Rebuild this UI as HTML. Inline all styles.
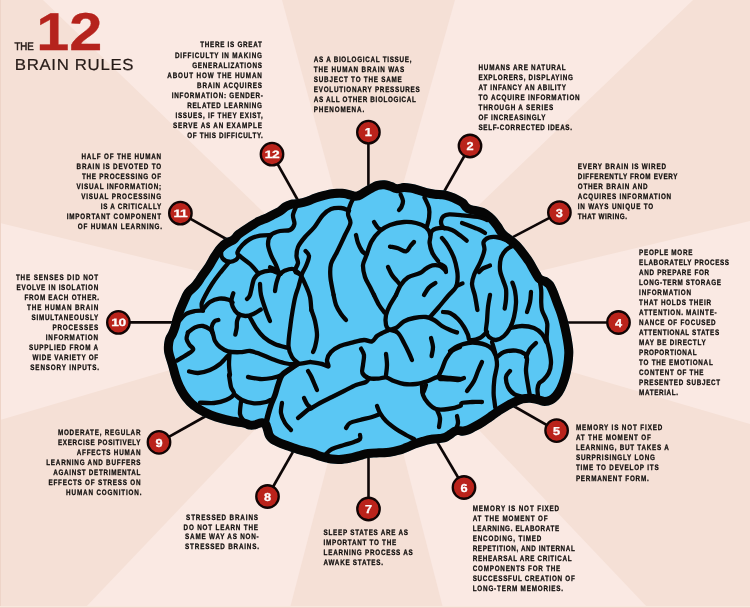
<!DOCTYPE html>
<html lang="en"><head><meta charset="utf-8"><title>The 12 Brain Rules</title>
<style>html,body{margin:0;padding:0;background:#fae9e3}body{width:750px;height:608px;overflow:hidden}svg{display:block}</style>
</head><body>
<svg width="750" height="608" viewBox="0 0 750 608">
<rect width="750" height="608" fill="#fae9e3"/>
<polygon points="367,312 0,223 0,0 43,0" fill="#f5e0d6"/>
<polygon points="367,312 282,0 455,0" fill="#f5e0d6"/>
<polygon points="367,312 693,0 750,0 750,221" fill="#f5e0d6"/>
<polygon points="367,312 750,424 750,608 648,608" fill="#f5e0d6"/>
<polygon points="367,312 443,608 290,608" fill="#f5e0d6"/>
<polygon points="367,312 85,608 0,608 0,420" fill="#f5e0d6"/>
<rect x="0" y="0" width="1" height="608" fill="#eed4c8"/><rect x="0" y="606" width="750" height="1" fill="#f7e9de"/><rect x="0" y="607" width="750" height="1" fill="#f3d0ca"/>
<g stroke="#0d0606" stroke-width="2.6" stroke-linecap="butt">
<line x1="368.4" y1="132" x2="368.4" y2="190"/>
<line x1="470" y1="146" x2="441.6" y2="196"/>
<line x1="559.4" y1="212.6" x2="508" y2="239.7"/>
<line x1="618.5" y1="322.5" x2="566" y2="322.5"/>
<line x1="556.6" y1="430.6" x2="510" y2="404"/>
<line x1="464" y1="487.5" x2="436" y2="440"/>
<line x1="368.5" y1="509" x2="368.5" y2="455"/>
<line x1="267.5" y1="496.5" x2="294" y2="450"/>
<line x1="159" y1="442.3" x2="206" y2="416"/>
<line x1="118.4" y1="322.4" x2="175" y2="322.4"/>
<line x1="180.4" y1="213.2" x2="228" y2="240"/>
<line x1="272" y1="154.2" x2="300" y2="204"/>
</g>
<defs><clipPath id="bc"><path d="M164 351C163.8 349 163.8 347.2 164 345C164.2 342.8 164.6 339.9 165.3 337.7C166.1 335.4 167.6 333.5 168.5 331.5C169.4 329.5 170 328 170.7 325.7C171.4 323.4 171.8 320.6 172.7 317.7C173.6 314.8 174.8 311.4 176 308.3C177.2 305.2 178.6 302.1 180 299C181.4 295.9 182.6 292.5 184.7 289.7C186.8 286.9 190.3 284.6 192.5 282C194.7 279.4 195.9 277.1 198 274C200.1 270.9 203.2 267 205.3 263.7C207.4 260.4 208.7 257.4 210.7 254.3C212.7 251.2 215.1 247.6 217.3 245C219.5 242.4 221.8 240.4 224 239C226.2 237.6 228.9 237.5 230.7 236.3C232.5 235.1 232.9 233.2 234.7 231.7C236.5 230.1 238.9 228.7 241.3 227C243.7 225.3 246.6 223.4 249.3 221.7C252 220 254.6 218.3 257.3 217C260 215.7 262.9 214.8 265.3 213.7C267.7 212.6 269.5 211.5 271.5 210.5C273.5 209.5 275.5 208.8 277.5 207.5C279.5 206.2 281.2 204.1 283.3 202.8C285.4 201.5 287.6 200.5 290 199.9C292.4 199.3 295.3 199.5 298 199C300.7 198.5 303.3 197.9 306 197C308.7 196.1 311.1 194.7 314 193.7C316.9 192.7 320 191.8 323.3 191C326.6 190.2 330.4 189.3 334 189C337.6 188.7 341.6 188.7 344.7 189C347.8 189.3 350.7 190.6 352.7 191C354.7 191.4 354.9 192.2 356.7 191.7C358.5 191.1 361.1 189 363.3 187.7C365.5 186.4 367.8 185.1 370 184C372.2 182.9 374.2 181.6 376.7 181C379.1 180.4 382 180.1 384.7 180.3C387.4 180.5 390.6 181.6 392.7 182.3C394.8 183 395.5 184.2 397.3 184.3C399.1 184.4 401 183.1 403.3 183C405.6 182.9 408.6 183.2 411.3 183.7C414 184.1 416.6 184.9 419.3 185.7C422 186.5 424.6 187.6 427.3 188.3C430 189 432.6 189.4 435.3 189.7C438 190 440.6 189.9 443.3 190.3C446 190.7 448.6 191.4 451.3 192.3C454 193.2 456.9 194.5 459.3 195.7C461.8 196.9 464.2 198.2 466 199.7C467.8 201.2 468 203.4 470 204.5C472 205.6 475.3 205.8 478 206.5C480.7 207.2 483.3 207.6 486 209C488.7 210.4 491.6 212.7 494 215C496.4 217.3 498.7 220.3 500.7 223C502.7 225.7 504 228.8 506 231C508 233.2 510.5 234.5 512.7 236.3C514.9 238.1 517.1 239.5 519.3 241.7C521.5 243.9 523.8 246.8 526 249.7C528.2 252.6 530.9 256.2 532.7 259C534.5 261.8 535.8 264.4 537 266.5C538.2 268.6 539 270.2 540 271.7C541 273.2 541.4 274.7 542.7 275.7C544 276.7 546.2 276.6 548 277.7C549.8 278.8 551.8 280.2 553.3 282.3C554.8 284.4 556 287.2 557.3 290.3C558.6 293.4 560 297.4 561.3 301C562.6 304.6 564.2 308.4 565.3 311.7C566.4 315 567.1 317.4 568 321C568.9 324.6 569.9 329 570.7 333C571.5 337 572.3 341.6 572.7 345C573.1 348.4 573.4 349.7 573.3 353.3C573.2 356.9 572.7 362.5 572 366.7C571.3 370.9 570.5 374.7 569.3 378.7C568.1 382.7 566.4 387.4 564.7 390.7C563 394 561.3 396.5 559.3 398.7C557.3 400.9 555.1 402.8 552.7 404C550.3 405.2 547.4 406 544.7 406C542 406 539.2 404.6 536.7 404C534.2 403.4 532.2 402.8 530 402.7C527.8 402.6 525.5 402.8 523.3 403.3C521.1 403.9 518.9 405 516.7 406C514.5 407 512.2 408.1 510 409.3C507.8 410.5 505.5 411.9 503.3 413.3C501.1 414.7 498.7 416.3 497 417.5C495.3 418.7 495.2 418.9 493.3 420.3C491.4 421.7 488 424 485.3 425.7C482.6 427.4 480 428.9 477.3 430.3C474.6 431.7 471.7 433.4 469.3 434.3C466.9 435.2 464.7 435.6 462.7 435.7C460.7 435.8 458.9 434.7 457.3 435C455.7 435.3 455.1 436.6 453.3 437.7C451.5 438.8 448.9 440.8 446.7 441.7C444.5 442.6 442.4 442.7 440 443C437.6 443.3 434.7 443.2 432 443.7C429.3 444.1 426.7 444.9 424 445.7C421.3 446.5 418.7 447.3 416 448.3C413.3 449.3 410.6 450.7 408 451.7C405.4 452.7 403.3 453.7 400.3 454.5C397.3 455.3 393.5 456.2 390 456.7C386.5 457.2 382.9 457.1 379.3 457.3C375.8 457.5 371.8 457.6 368.7 458C365.6 458.4 363.8 459.2 360.7 460C357.6 460.8 353.6 462 350 462.7C346.4 463.4 342.5 463.9 339.3 464C336.1 464.1 333.4 463.8 331 463.5C328.6 463.2 327.2 462.8 325 462.3C322.8 461.8 320.2 461.1 318 460.3C315.8 459.5 314.1 458.5 311.5 457.7C308.9 456.9 305.6 456.2 302.3 455.3C299 454.4 294.8 453 291.7 452C288.6 451 286.4 450.3 283.7 449.3C281 448.3 278.1 447.2 275.7 446C273.2 444.8 270.8 443.6 269 442C267.2 440.4 266 438.7 265 436.7C264 434.7 263.6 431.6 263 430C262.4 428.4 262.9 427.4 261.7 427.3C260.5 427.2 257.8 428.9 255.7 429.3C253.6 429.7 251.1 429.9 249 429.6C246.9 429.3 246 428.1 243.3 427.5C240.6 426.9 236.5 426.4 232.7 425.7C228.9 424.9 224.7 424.1 220.7 423C216.7 421.9 212.5 420.6 208.7 419C204.9 417.4 201.3 415.7 198 413.7C194.7 411.7 191.6 409.7 188.7 407C185.8 404.3 182.9 400.8 180.7 397.7C178.5 394.6 176.9 391.6 175.3 388.3C173.7 385 172.5 381.5 171.3 377.7C170.1 373.9 169 369.1 168 365.7C167 362.2 166 359.4 165.3 357C164.6 354.6 164.2 353 164 351Z"/></clipPath></defs>
<path d="M164 351C163.8 349 163.8 347.2 164 345C164.2 342.8 164.6 339.9 165.3 337.7C166.1 335.4 167.6 333.5 168.5 331.5C169.4 329.5 170 328 170.7 325.7C171.4 323.4 171.8 320.6 172.7 317.7C173.6 314.8 174.8 311.4 176 308.3C177.2 305.2 178.6 302.1 180 299C181.4 295.9 182.6 292.5 184.7 289.7C186.8 286.9 190.3 284.6 192.5 282C194.7 279.4 195.9 277.1 198 274C200.1 270.9 203.2 267 205.3 263.7C207.4 260.4 208.7 257.4 210.7 254.3C212.7 251.2 215.1 247.6 217.3 245C219.5 242.4 221.8 240.4 224 239C226.2 237.6 228.9 237.5 230.7 236.3C232.5 235.1 232.9 233.2 234.7 231.7C236.5 230.1 238.9 228.7 241.3 227C243.7 225.3 246.6 223.4 249.3 221.7C252 220 254.6 218.3 257.3 217C260 215.7 262.9 214.8 265.3 213.7C267.7 212.6 269.5 211.5 271.5 210.5C273.5 209.5 275.5 208.8 277.5 207.5C279.5 206.2 281.2 204.1 283.3 202.8C285.4 201.5 287.6 200.5 290 199.9C292.4 199.3 295.3 199.5 298 199C300.7 198.5 303.3 197.9 306 197C308.7 196.1 311.1 194.7 314 193.7C316.9 192.7 320 191.8 323.3 191C326.6 190.2 330.4 189.3 334 189C337.6 188.7 341.6 188.7 344.7 189C347.8 189.3 350.7 190.6 352.7 191C354.7 191.4 354.9 192.2 356.7 191.7C358.5 191.1 361.1 189 363.3 187.7C365.5 186.4 367.8 185.1 370 184C372.2 182.9 374.2 181.6 376.7 181C379.1 180.4 382 180.1 384.7 180.3C387.4 180.5 390.6 181.6 392.7 182.3C394.8 183 395.5 184.2 397.3 184.3C399.1 184.4 401 183.1 403.3 183C405.6 182.9 408.6 183.2 411.3 183.7C414 184.1 416.6 184.9 419.3 185.7C422 186.5 424.6 187.6 427.3 188.3C430 189 432.6 189.4 435.3 189.7C438 190 440.6 189.9 443.3 190.3C446 190.7 448.6 191.4 451.3 192.3C454 193.2 456.9 194.5 459.3 195.7C461.8 196.9 464.2 198.2 466 199.7C467.8 201.2 468 203.4 470 204.5C472 205.6 475.3 205.8 478 206.5C480.7 207.2 483.3 207.6 486 209C488.7 210.4 491.6 212.7 494 215C496.4 217.3 498.7 220.3 500.7 223C502.7 225.7 504 228.8 506 231C508 233.2 510.5 234.5 512.7 236.3C514.9 238.1 517.1 239.5 519.3 241.7C521.5 243.9 523.8 246.8 526 249.7C528.2 252.6 530.9 256.2 532.7 259C534.5 261.8 535.8 264.4 537 266.5C538.2 268.6 539 270.2 540 271.7C541 273.2 541.4 274.7 542.7 275.7C544 276.7 546.2 276.6 548 277.7C549.8 278.8 551.8 280.2 553.3 282.3C554.8 284.4 556 287.2 557.3 290.3C558.6 293.4 560 297.4 561.3 301C562.6 304.6 564.2 308.4 565.3 311.7C566.4 315 567.1 317.4 568 321C568.9 324.6 569.9 329 570.7 333C571.5 337 572.3 341.6 572.7 345C573.1 348.4 573.4 349.7 573.3 353.3C573.2 356.9 572.7 362.5 572 366.7C571.3 370.9 570.5 374.7 569.3 378.7C568.1 382.7 566.4 387.4 564.7 390.7C563 394 561.3 396.5 559.3 398.7C557.3 400.9 555.1 402.8 552.7 404C550.3 405.2 547.4 406 544.7 406C542 406 539.2 404.6 536.7 404C534.2 403.4 532.2 402.8 530 402.7C527.8 402.6 525.5 402.8 523.3 403.3C521.1 403.9 518.9 405 516.7 406C514.5 407 512.2 408.1 510 409.3C507.8 410.5 505.5 411.9 503.3 413.3C501.1 414.7 498.7 416.3 497 417.5C495.3 418.7 495.2 418.9 493.3 420.3C491.4 421.7 488 424 485.3 425.7C482.6 427.4 480 428.9 477.3 430.3C474.6 431.7 471.7 433.4 469.3 434.3C466.9 435.2 464.7 435.6 462.7 435.7C460.7 435.8 458.9 434.7 457.3 435C455.7 435.3 455.1 436.6 453.3 437.7C451.5 438.8 448.9 440.8 446.7 441.7C444.5 442.6 442.4 442.7 440 443C437.6 443.3 434.7 443.2 432 443.7C429.3 444.1 426.7 444.9 424 445.7C421.3 446.5 418.7 447.3 416 448.3C413.3 449.3 410.6 450.7 408 451.7C405.4 452.7 403.3 453.7 400.3 454.5C397.3 455.3 393.5 456.2 390 456.7C386.5 457.2 382.9 457.1 379.3 457.3C375.8 457.5 371.8 457.6 368.7 458C365.6 458.4 363.8 459.2 360.7 460C357.6 460.8 353.6 462 350 462.7C346.4 463.4 342.5 463.9 339.3 464C336.1 464.1 333.4 463.8 331 463.5C328.6 463.2 327.2 462.8 325 462.3C322.8 461.8 320.2 461.1 318 460.3C315.8 459.5 314.1 458.5 311.5 457.7C308.9 456.9 305.6 456.2 302.3 455.3C299 454.4 294.8 453 291.7 452C288.6 451 286.4 450.3 283.7 449.3C281 448.3 278.1 447.2 275.7 446C273.2 444.8 270.8 443.6 269 442C267.2 440.4 266 438.7 265 436.7C264 434.7 263.6 431.6 263 430C262.4 428.4 262.9 427.4 261.7 427.3C260.5 427.2 257.8 428.9 255.7 429.3C253.6 429.7 251.1 429.9 249 429.6C246.9 429.3 246 428.1 243.3 427.5C240.6 426.9 236.5 426.4 232.7 425.7C228.9 424.9 224.7 424.1 220.7 423C216.7 421.9 212.5 420.6 208.7 419C204.9 417.4 201.3 415.7 198 413.7C194.7 411.7 191.6 409.7 188.7 407C185.8 404.3 182.9 400.8 180.7 397.7C178.5 394.6 176.9 391.6 175.3 388.3C173.7 385 172.5 381.5 171.3 377.7C170.1 373.9 169 369.1 168 365.7C167 362.2 166 359.4 165.3 357C164.6 354.6 164.2 353 164 351Z" fill="#5ac7f4" stroke="#050505" stroke-width="18" stroke-linejoin="round" clip-path="url(#bc)"/>
<g fill="none" stroke="#050505" stroke-linecap="round" stroke-linejoin="round" clip-path="url(#bc)">
<path d="M297 205C296.3 206.7 293.4 211.8 293 215C292.6 218.2 294.9 221.5 294.4 224C293.9 226.5 292.4 228.8 290 230C287.6 231.2 283.2 230.2 280 231C276.8 231.8 273 232.8 271 235C269 237.2 268 240.7 268 244C268 247.3 269.7 251.5 271 255C272.3 258.5 274.6 261.8 276 265C277.4 268.2 278.7 272.8 279.2 274.4" stroke-width="4.3"/>
<path d="M271 235C269.2 235.1 263.5 234.9 260 235.6C256.5 236.3 252.9 237.4 250 239C247.1 240.6 244.5 242.8 242.4 245C240.3 247.2 238.2 250.3 237.6 252C237 253.7 236.9 253.4 239 255.4C241.1 257.4 246.8 261.1 250 264C253.2 266.9 256.7 271.5 258 273" stroke-width="4.3"/>
<path d="M230 244C228.9 244.8 225.1 247.3 223.6 248.6C222.1 249.9 221.4 250.4 221.2 252C221 253.6 221.3 256.8 222.6 258.4C223.9 260 227 261.6 229.2 261.8C231.4 262 234.4 260.9 236 259.8C237.6 258.7 238.5 256.1 239 255.4" stroke-width="4.3"/>
<path d="M229.2 261.8C227.7 263.7 222.9 269.3 220 273C217.1 276.7 214.4 280.3 212 284C209.6 287.7 207.3 291.7 205.6 295C203.9 298.3 202 301.4 201.6 304C201.2 306.6 202.8 309.5 203 310.6" stroke-width="4.3"/>
<path d="M349 210.5C347.7 210.1 344 208.2 341 208C338 207.8 334.1 207.8 331 209C327.9 210.2 325.2 212.5 322.5 215.5C319.8 218.5 317.4 223.4 314.5 227C311.6 230.6 307.8 233.7 305 237C302.2 240.3 299.4 243.8 298 247C296.6 250.2 296.5 253.3 296.5 256C296.5 258.7 298.2 260.5 298 263C297.8 265.5 294.6 268.9 295 271C295.4 273.1 298.8 272.8 300.7 275.3C302.5 277.8 304.4 282.4 306 286C307.6 289.6 309.1 292.7 310 296.7C310.9 300.7 311.1 307.8 311.3 310" stroke-width="4.3"/>
<path d="M305.6 251C306.2 251.8 308.9 253.7 309 256C309.1 258.3 307.5 262.2 306.4 265C305.3 267.8 303.1 271.5 302.4 273C301.7 274.5 302.6 271.8 302 274C301.4 276.2 299.8 282.2 298.7 286C297.6 289.8 296.3 292.7 295.3 296.7C294.3 300.7 293.5 305.3 292.7 310C291.9 314.7 291.2 319 290.5 325C289.8 331 288.2 340.7 288.5 346C288.8 351.3 290.4 354.2 292 357C293.6 359.8 297 362 298 363" stroke-width="4.3"/>
<path d="M247 299C247.5 298.3 248.8 298.3 250 295C251.2 291.7 252.3 282.7 254 279C255.7 275.3 257.3 274.4 260 273C262.7 271.6 267.2 270.7 270 270.6C272.8 270.5 275.5 272 277 272.6C278.5 273.2 278.8 274.1 279.2 274.4" stroke-width="4.3"/>
<path d="M260 284C260.2 285.8 260 290.5 261 295C262 299.5 264.5 306.7 266 311C267.5 315.3 269.3 319.3 270 321" stroke-width="4.3"/>
<path d="M279.2 274.4C278.7 275.8 277.1 280.2 276.4 283C275.7 285.8 275.2 289.7 275 291" stroke-width="4.3"/>
<path d="M279.2 274.4C280.2 273.8 282.7 271.5 285 270.6C287.3 269.7 290.4 268.4 293 269C295.6 269.6 299.2 273.5 300.4 274.4" stroke-width="4.3"/>
<path d="M357.6 192C356.5 193.8 352.6 199.3 351 203C349.4 206.7 348.1 210.7 348 214C347.9 217.3 350.9 219.5 350.4 223C349.9 226.5 347.2 230.2 345 235C342.8 239.8 339.3 247.2 337 252C334.7 256.8 332.1 259.8 331 264C329.9 268.2 330 271.8 330.4 277C330.8 282.2 333.1 292 333.6 295" stroke-width="4.3"/>
<path d="M400.6 194.6C401 195.7 402.9 198.9 403 201C403.1 203.1 402.1 205.5 401.4 207C400.7 208.5 399.4 209.5 399 210" stroke-width="4.3"/>
<path d="M424.4 197.4C425.2 199.2 428.2 204.6 429 208C429.8 211.4 429.3 215 429 218C428.7 221 427.3 224.7 427 226" stroke-width="4.3"/>
<path d="M374 222C374.6 222.9 376.5 226.2 377.6 227.4C378.7 228.6 379.9 229.1 380.4 229.4" stroke-width="4.3"/>
<path d="M366.4 255.4C367.3 253.1 369.3 245.5 371.6 241.4C373.9 237.3 376.9 233.7 380 231C383.1 228.3 386 226.5 390 225C394 223.5 399.7 222.3 404 222C408.3 221.7 412.3 222.1 416 223C419.7 223.9 423.6 225.4 426 227.4C428.4 229.4 429.8 232.4 430.4 235C431 237.6 429.3 240 429.6 243C429.9 246 431 250 432.4 253C433.8 256 437.1 259.7 438 261" stroke-width="4.3"/>
<path d="M356 235C356.3 236.3 357 240.3 358 243C359 245.7 360.7 248.9 362 251C363.3 253.1 365.8 253.1 366 255.4C366.2 257.7 363.2 261.4 363 265C362.8 268.6 363.8 273.3 365 277C366.2 280.7 368.5 284 370 287C371.5 290 373.3 293.7 374 295" stroke-width="4.3"/>
<path d="M390 246.6C391.3 246.9 395.3 247.4 398 248.2C400.7 249 403.9 251.8 406 251.4C408.1 251 409.1 247.6 410.4 246C411.7 244.4 413.4 242.7 414 242" stroke-width="4.3"/>
<path d="M388 267C388.7 268.3 390.5 272.7 392 275C393.5 277.3 395.7 279.4 397 281C398.3 282.6 399.5 284 400 284.6" stroke-width="4.3"/>
<path d="M396 295C396.8 293.3 398.8 287.9 400.8 285C402.8 282.1 404.8 279.4 408 277.4C411.2 275.4 417 274.5 420 273C423 271.5 423.9 269.9 426 268.6C428.1 267.3 430.1 265.8 432.4 265.4C434.7 265 437.9 265.2 440 266C442.1 266.8 444.3 269.5 445.2 270.2" stroke-width="4.3"/>
<path d="M424 295C424.8 293.7 427.1 289.4 429 287.4C430.9 285.4 434.3 283.7 435.4 283" stroke-width="4.3"/>
<path d="M430.4 235C430.7 234.3 431.1 232.1 432 231C432.9 229.9 434 229.2 436 228.7C438 228.2 441.3 227.8 444 228C446.7 228.2 449.3 228.8 452 230C454.7 231.2 457.6 233.5 460 235.3C462.4 237.1 465.6 239.8 466.7 240.7" stroke-width="4.3"/>
<path d="M487 220C485.8 219.6 484.1 218.1 480 217.3C475.9 216.5 467.8 215.8 462.7 215.3C457.6 214.8 452.5 214.2 449.3 214.4C446.1 214.6 444.7 215.2 443.3 216.4C441.9 217.6 441.2 219.7 441 221.3C440.8 222.9 441.4 224.8 442 226C442.6 227.2 444.1 227.8 444.5 228.2" stroke-width="4.3"/>
<path d="M462 223C463.3 223.5 467 224.8 470 226C473 227.2 477.5 228.8 480 230C482.5 231.2 484.2 232.5 485 233" stroke-width="4.3"/>
<path d="M513 245C511.8 244.2 508.8 241.3 506 240C503.2 238.7 498.8 237.4 496 237C493.2 236.6 491.1 236.8 489 237.6C486.9 238.4 484.4 239.9 483.6 242C482.8 244.1 484.9 246.7 484.4 250C483.9 253.3 482.1 258 480.4 262C478.7 266 475.8 270.3 474.4 274C473 277.7 471.9 280.3 472 284C472.1 287.7 474.1 291.7 475 296C475.9 300.3 477 307.7 477.4 310" stroke-width="4.3"/>
<path d="M513 245.6C511.8 246.3 508 247.9 506 250C504 252.1 502 254.7 501 258C500 261.3 499.7 266.3 500 270C500.3 273.7 502 276.8 503 280C504 283.2 505.5 285.8 506 289C506.5 292.2 506.2 296.2 506 299.5C505.8 302.8 504.9 307 504.7 308.5" stroke-width="4.3"/>
<path d="M490 265.6C488.8 266.1 484.8 267.3 483 268.4C481.2 269.5 479.7 271.4 479 272" stroke-width="4.3"/>
<path d="M442 238C443 239.3 446 242.7 448 246C450 249.3 452.5 254 454 258C455.5 262 456.4 266.7 457 270C457.6 273.3 457.8 275.2 457.6 278C457.4 280.8 457.6 284 456 287C454.4 290 451 292.5 448 296C445 299.5 441 304.5 438 308C435 311.5 431.3 315.5 430 317" stroke-width="4.3"/>
<path d="M456.5 286L462.5 283.4" stroke-width="4.3"/>
<path d="M440 264C440.8 264.5 444 265.7 445 267C446 268.3 445.8 271.2 446 272" stroke-width="4.3"/>
<path d="M270 267.3C271.1 267.8 274.9 268.9 276.7 270C278.4 271.1 280 273.3 280.7 274" stroke-width="4.3"/>
<path d="M203.2 309C204.3 307.8 207.3 303.7 210 302C212.7 300.3 216.1 299 219.2 298.6C222.3 298.2 226.4 299.1 228.6 299.8C230.8 300.5 231.9 302.1 232.6 302.6" stroke-width="4.3"/>
<path d="M233.3 293.3C233 294.4 231.6 297.8 231.5 300C231.4 302.2 231.7 304.5 232.7 306.7C233.7 308.9 235.2 311.8 237.3 313.3C239.4 314.9 242.6 315.9 245.3 316C248 316.1 250.7 315.1 253.3 314C255.9 312.9 259.5 310.3 260.7 309.6" stroke-width="4.3"/>
<path d="M239.3 315.3C238.9 316.3 237.4 319.2 237 321.3C236.6 323.4 237 325.8 236.7 328C236.4 330.2 235.5 333.6 235.3 334.7" stroke-width="4.3"/>
<path d="M179 321C180.2 319.8 183.3 315.7 186 314C188.7 312.3 192.2 311.6 195 311C197.8 310.4 201.7 310.7 203 310.6" stroke-width="4.3"/>
<path d="M188 332.4C189.2 331.6 192.5 328.5 195 327.4C197.5 326.3 200.5 325.7 203 326C205.5 326.3 208.3 328.1 210 329.4C211.7 330.7 212.2 332.1 213 334C213.8 335.9 213.8 338.8 215 341C216.2 343.2 217.8 345.3 220 347C222.2 348.7 224.7 350.5 228 351.4C231.3 352.3 236.3 352.3 240 352.2C243.7 352.1 246.7 350.7 250 351C253.3 351.3 256.3 352.7 260 354C263.7 355.3 268 357.5 272 359C276 360.5 280 362.1 284 363C288 363.9 291.7 364.4 296 364.2C300.3 364 307.7 362.4 310 362" stroke-width="4.3"/>
<path d="M213 334C212.8 332.9 211.4 329.5 211.6 327.4C211.8 325.3 213.3 322.6 214.4 321.4C215.5 320.2 217.7 320.2 218.4 320" stroke-width="4.3"/>
<path d="M188 332.4C187.8 333.5 186.3 336.9 186.6 339C186.9 341.1 188.5 343.3 189.6 345C190.7 346.7 193.6 347.8 193.2 349.4C192.8 351 189.7 352.7 187 354.6C184.3 356.5 178.7 359.6 177 360.6" stroke-width="4.3"/>
<path d="M189 371.4C190.5 371.7 194.5 373.2 198 373C201.5 372.8 206.3 371.5 210 370C213.7 368.5 217.1 366.3 220 364C222.9 361.7 226.3 357.3 227.6 356" stroke-width="4.3"/>
<path d="M229.6 353C229.5 355 228.9 361.3 229 365C229.1 368.7 229.8 373.3 230 375" stroke-width="4.3"/>
<path d="M248 377C250 377.3 256 378.8 260 379C264 379.2 268.3 378.7 272 378C275.7 377.3 279 376.5 282 375C285 373.5 287.5 370.8 290 369C292.5 367.2 295.8 365 297 364.2" stroke-width="4.3"/>
<path d="M333.6 295C334 296.7 334.8 301.8 336 305C337.2 308.2 339.3 311.5 341 314C342.7 316.5 345.2 319 346 320" stroke-width="4.3"/>
<path d="M374 295C374.8 296.7 377.3 302.1 379 305C380.7 307.9 383.5 311.2 384.4 312.4" stroke-width="4.3"/>
<path d="M396 295C395 296.7 391.7 301.7 390 305C388.3 308.3 386.7 311.7 386 315C385.3 318.3 385.5 322.5 386 325C386.5 327.5 388.5 329.2 389 330" stroke-width="4.3"/>
<path d="M311.4 310C312 311.8 314.1 316.8 315 321C315.9 325.2 317 330.7 317 335C317 339.3 315.7 344.2 315 347C314.3 349.8 313.3 351.2 313 352" stroke-width="4.3"/>
<path d="M310 362C312 362.3 318.9 363.3 322 364C325.1 364.7 327.6 367.1 328.4 366.4C329.2 365.7 326.6 362.4 327 360C327.4 357.6 328.8 354.3 331 352C333.2 349.7 336.5 347.6 340 346C343.5 344.4 348 343.6 352 342.6C356 341.6 360.7 340.2 364 340C367.3 339.8 369.8 342.1 372 341.4C374.2 340.7 375.2 337.5 377 336C378.8 334.5 381 333.6 383 332.6C385 331.6 386.8 330.8 389 330C391.2 329.2 393.5 329.4 396 328C398.5 326.6 401 323.1 404 321.4C407 319.7 410.3 318.7 414 318C417.7 317.3 422.7 316.7 426 317C429.3 317.3 431.3 318.5 434 320C436.7 321.5 439.3 324.3 442 326C444.7 327.7 447.5 328.9 450 330C452.5 331.1 455.8 332 457 332.4" stroke-width="4.4"/>
<path d="M361 348.6C361.5 349.7 363.7 352.3 364 355C364.3 357.7 363.3 362 363 365C362.7 368 361.4 370.8 362.4 373C363.4 375.2 366.4 377.3 369 378.2C371.6 379.1 375.2 378.7 378 378.6C380.8 378.5 383.3 377 386 377.4C388.7 377.8 391 379.9 394 381C397 382.1 400.3 383.5 404 384C407.7 384.5 412 384.5 416 384C420 383.5 424.3 382.2 428 381C431.7 379.8 434.3 377.5 438 377C441.7 376.5 446.3 377.7 450 378C453.7 378.3 458.3 378.8 460 379" stroke-width="4.3"/>
<path d="M386 354C386.2 355.8 387 361.5 387 365C387 368.5 386.2 373.3 386 375" stroke-width="4.3"/>
<path d="M389.6 329.8C391 330.3 395.6 330.8 398 333C400.4 335.2 402.2 339.7 404 343C405.8 346.3 407.7 350.2 409 353C410.3 355.8 411.5 358.8 412 360" stroke-width="4.3"/>
<path d="M431 338C431.3 339.5 432.9 344 433 347C433.1 350 431.8 354.5 431.6 356" stroke-width="4.3"/>
<path d="M460 347C458.7 347.7 454.3 349 452 351C449.7 353 447.7 356 446 359C444.3 362 443.3 366 442 369C440.7 372 438.7 375.7 438 377" stroke-width="4.3"/>
<path d="M490 295C489.7 297 488.5 302.7 488 307C487.5 311.3 487.3 317 487 321C486.7 325 485.7 328.3 486 331C486.3 333.7 487.3 335.5 489 337C490.7 338.5 493.5 340.2 496 340C498.5 339.8 501.7 338 504 336C506.3 334 508.3 331.2 510 328C511.7 324.8 513 321.2 514 317C515 312.8 515.8 307.3 516 303C516.2 298.7 515.6 294.4 515 291C514.4 287.6 512.8 284 512.4 282.6" stroke-width="4.3"/>
<path d="M531 292C530.8 293.7 530.7 298.7 530 302C529.3 305.3 527.5 310.3 527 312" stroke-width="4.3"/>
<path d="M539.5 280C539.8 281.7 540.9 286.3 541.2 290C541.5 293.7 541.1 298.7 541.2 302C541.3 305.3 541.3 307.3 542 310C542.7 312.7 544.6 315.7 545.5 318C546.4 320.3 547 321.7 547.3 324C547.5 326.3 547.1 329.3 547 332C546.9 334.7 546.4 336.8 546.8 340C547.2 343.2 548.8 347.2 549.5 351C550.2 354.8 551.1 359.3 551 363C550.9 366.7 550 370.2 548.7 373C547.4 375.8 544.9 378.3 543.3 380C541.7 381.7 540.3 381.5 539.3 383C538.3 384.5 537.7 386.8 537.5 389C537.3 391.2 537.9 394.8 538 396" stroke-width="4.3"/>
<path d="M511 328C512.8 327.7 518.2 326 522 326C525.8 326 530.7 326.7 534 328C537.3 329.3 539.9 331.7 542 334C544.1 336.3 545.7 340.7 546.4 342" stroke-width="4.3"/>
<path d="M443 312C444.2 312.2 447.5 311.8 450 313C452.5 314.2 455.7 316.7 458 319C460.3 321.3 462.3 324.3 464 327C465.7 329.7 467 332.8 468 335C469 337.2 468 339.5 470 340C472 340.5 477.2 339.3 480 338C482.8 336.7 485.8 333 487 332" stroke-width="4.3"/>
<path d="M450 351C451.3 350.2 455 347.3 458 346C461 344.7 464.7 343.5 468 343C471.3 342.5 475 342.7 478 343C481 343.3 483.7 344 486 345C488.3 346 490.5 347.5 492 349C493.5 350.5 494.5 353.2 495 354" stroke-width="4.3"/>
<path d="M492 342C492.6 344.2 494.8 351.2 495.6 355C496.4 358.8 497.2 361 497 365C496.8 369 495 374.3 494.4 379C493.8 383.7 493.6 389.3 493.6 393C493.6 396.7 494.1 398.6 494.4 401C494.7 403.4 495.1 406.3 495.2 407.4" stroke-width="4.3"/>
<path d="M497 357C498.2 356.2 500.8 353.1 504 352C507.2 350.9 512.5 350.3 516 350.6C519.5 350.9 523.2 352.6 525 354C526.8 355.4 526.8 356.2 527 359C527.2 361.8 525.8 366.7 526 371C526.2 375.3 527.4 381.2 528 385C528.6 388.8 529.3 392.5 529.6 394" stroke-width="4.3"/>
<path d="M536 343C535 344 531.7 346.7 530 349C528.3 351.3 526.7 355.7 526 357" stroke-width="4.3"/>
<path d="M510 371C509.3 372 506.3 374.3 506 377C505.7 379.7 506.7 384.2 508 387C509.3 389.8 512 392.5 514 394C516 395.5 519 395.7 520 396" stroke-width="4.3"/>
<path d="M482 362C481.3 363.5 479.3 367.8 478 371C476.7 374.2 475.8 377.7 474 381C472.2 384.3 468.2 389.3 467 391" stroke-width="4.3"/>
<path d="M440 379C441.7 379.1 447 379.2 450 379.4C453 379.6 455.7 380.2 458 380C460.3 379.8 463 378.3 464 378" stroke-width="4.3"/>
<path d="M229 375C229.3 377 230.2 383.8 231 387C231.8 390.2 234.8 391.8 234 394C233.2 396.2 229.3 398.5 226 400C222.7 401.5 218.3 402.6 214 403C209.7 403.4 202.3 402.7 200 402.6" stroke-width="4.3"/>
<path d="M234 394C235.3 395 238.7 398.4 242 400C245.3 401.6 250 403.1 254 403.4C258 403.7 263.3 402.6 266 402C268.7 401.4 269.7 400.3 270.4 400" stroke-width="4.3"/>
<path d="M241 402C240.8 404 239.6 410.9 240 414C240.4 417.1 243 419.5 243.6 420.6" stroke-width="4.3"/>
<path d="M282 403C281.8 404.7 280.5 409.7 281 413C281.5 416.3 283.3 420.2 285 423C286.7 425.8 290 428.8 291 430" stroke-width="4.3"/>
<path d="M310 408C309 408.8 306 411.3 304 413C302 414.7 299 417.2 298 418" stroke-width="4.3"/>
<path d="M304 398C304.5 399 306 402.5 307 404C308 405.5 309.5 406.5 310 407" stroke-width="4.3"/>
<path d="M265 428C265.5 425.8 267 418.8 268 415C269 411.2 269.8 408.3 271 405C272.2 401.7 273.8 398.3 275 395C276.2 391.7 276.8 388.3 278 385C279.2 381.7 280 377.7 282 375C284 372.3 287.5 370.8 290 369C292.5 367.2 295.8 365 297 364.2" stroke-width="5.5"/>
<path d="M310 409C311.7 408 316.3 405 320 403C323.7 401 328 399 332 397C336 395 340 393 344 391C348 389 352.3 386.5 356 385C359.7 383.5 363.8 383.1 366 382C368.2 380.9 368.5 378.8 369 378.2" stroke-width="4.3"/>
<path d="M422 386C422.2 387.5 422 392.2 423 395C424 397.8 425.8 400.7 428 403C430.2 405.3 432.7 408 436 409C439.3 410 444 409.5 448 409C452 408.5 457.7 407 460 406C462.3 405 460 403.7 462 403C464 402.3 468.7 402.2 472 402C475.3 401.8 480.3 402 482 402" stroke-width="4.3"/>
<path d="M426 385C425.5 386.3 423.7 392.8 423 393C422.3 393.2 422.2 387.2 422 386" stroke-width="4.3"/>
<path d="M437 410C437.5 411.3 439.7 415.2 440 418C440.3 420.8 439.2 425.5 439 427" stroke-width="4.3"/>
<path d="M457 416C457.2 417.2 458.2 420.8 458 423C457.8 425.2 456.3 428 456 429" stroke-width="4.3"/>
<path d="M377 406C377.5 407.2 378.5 410.5 380 413C381.5 415.5 383.3 418.3 386 421C388.7 423.7 392.7 426.7 396 429C399.3 431.3 403 433.3 406 435C409 436.7 412.7 438.3 414 439" stroke-width="4.3"/>
<path d="M346 428C346.7 427.2 347.7 424.3 350 423C352.3 421.7 356.3 421 360 420C363.7 419 368.7 418 372 417C375.3 416 378.7 414.5 380 414" stroke-width="4.3"/>
<path d="M326 454C327 453.2 329 450.5 332 449C335 447.5 340.3 446.2 344 445C347.7 443.8 351.3 443 354 442C356.7 441 359 440.2 360 439C361 437.8 360 435.7 360 435" stroke-width="4.3"/>
<path d="M308 371C308.5 371.8 310 374 311 376C312 378 313 380.7 314 383C315 385.3 316.5 388.8 317 390" stroke-width="4.3"/>
<path d="M250 317.5C251 319.2 253.7 324.7 256 328C258.3 331.3 260.9 334.6 264 337.3C267.1 340 270.7 342.2 274.7 344C278.7 345.8 285.8 347.3 288 348" stroke-width="4.3"/>
</g>
<circle cx="368.4" cy="132.2" r="11.25" fill="#ba231b" stroke="#100505" stroke-width="2.3"/>
<circle cx="470" cy="146" r="11.25" fill="#ba231b" stroke="#100505" stroke-width="2.3"/>
<circle cx="559.4" cy="212.6" r="11.25" fill="#ba231b" stroke="#100505" stroke-width="2.3"/>
<circle cx="618.5" cy="322.5" r="11.25" fill="#ba231b" stroke="#100505" stroke-width="2.3"/>
<circle cx="556.6" cy="430.6" r="11.25" fill="#ba231b" stroke="#100505" stroke-width="2.3"/>
<circle cx="464" cy="487.5" r="11.25" fill="#ba231b" stroke="#100505" stroke-width="2.3"/>
<circle cx="368.5" cy="509" r="11.25" fill="#ba231b" stroke="#100505" stroke-width="2.3"/>
<circle cx="267.5" cy="496.5" r="11.25" fill="#ba231b" stroke="#100505" stroke-width="2.3"/>
<circle cx="159" cy="442.3" r="11.25" fill="#ba231b" stroke="#100505" stroke-width="2.3"/>
<circle cx="118.4" cy="322.4" r="11.25" fill="#ba231b" stroke="#100505" stroke-width="2.3"/>
<circle cx="180.4" cy="213.2" r="11.25" fill="#ba231b" stroke="#100505" stroke-width="2.3"/>
<circle cx="272" cy="154.2" r="11.25" fill="#ba231b" stroke="#100505" stroke-width="2.3"/>
<g opacity="0.99" text-rendering="geometricPrecision" font-family="'Liberation Sans',sans-serif">
<g font-weight="bold" fill="#fff" stroke="#fff" stroke-width="0.3" text-anchor="middle">
<text transform="translate(368.4 136.4) scale(1.1 1)" font-size="11.6">1</text>
<text transform="translate(470 150.2) scale(1.1 1)" font-size="11.6">2</text>
<text transform="translate(559.4 216.8) scale(1.1 1)" font-size="11.6">3</text>
<text transform="translate(618.5 326.7) scale(1.1 1)" font-size="11.6">4</text>
<text transform="translate(556.6 434.8) scale(1.1 1)" font-size="11.6">5</text>
<text transform="translate(464 491.7) scale(1.1 1)" font-size="11.6">6</text>
<text transform="translate(368.5 513.2) scale(1.1 1)" font-size="11.6">7</text>
<text transform="translate(267.5 500.7) scale(1.1 1)" font-size="11.6">8</text>
<text transform="translate(159 446.5) scale(1.1 1)" font-size="11.6">9</text>
<text transform="translate(118.4 326.3) scale(1.3 1)" font-size="10.6" letter-spacing="-0.3">10</text>
<text transform="translate(180.4 217.1) scale(1.3 1)" font-size="10.6" letter-spacing="-0.3">11</text>
<text transform="translate(272 158.1) scale(1.3 1)" font-size="10.6" letter-spacing="-0.3">12</text>
</g>
<g font-weight="bold" font-size="7.9" fill="#0c0a09" stroke="#0c0a09" stroke-width="0.27">
<text transform="translate(200.2 47.4) scale(0.8 1)" textLength="77.1" lengthAdjust="spacing">THERE IS GREAT</text>
<text transform="translate(174.9 57.5) scale(0.8 1)" textLength="108.8" lengthAdjust="spacing">DIFFICULTY IN MAKING</text>
<text transform="translate(192.2 67.5) scale(0.8 1)" textLength="87.1" lengthAdjust="spacing">GENERALIZATIONS</text>
<text transform="translate(167.3 77.5) scale(0.8 1)" textLength="118.2" lengthAdjust="spacing">ABOUT HOW THE HUMAN</text>
<text transform="translate(197.1 87.6) scale(0.8 1)" textLength="81" lengthAdjust="spacing">BRAIN ACQUIRES</text>
<text transform="translate(171.8 97.7) scale(0.8 1)" textLength="113.8" lengthAdjust="spacing">INFORMATION: GENDER-</text>
<text transform="translate(187.2 107.7) scale(0.8 1)" textLength="93.4" lengthAdjust="spacing">RELATED LEARNING</text>
<text transform="translate(175.4 117.8) scale(0.8 1)" textLength="109.2" lengthAdjust="spacing">ISSUES, IF THEY EXIST,</text>
<text transform="translate(173.1 127.8) scale(0.8 1)" textLength="111" lengthAdjust="spacing">SERVE AS AN EXAMPLE</text>
<text transform="translate(187.2 137.8) scale(0.8 1)" textLength="94.5" lengthAdjust="spacing">OF THIS DIFFICULTY.</text>
<text transform="translate(81.5 158.8) scale(0.8 1)" textLength="99.5" lengthAdjust="spacing">HALF OF THE HUMAN</text>
<text transform="translate(76.6 168.8) scale(0.8 1)" textLength="105.6" lengthAdjust="spacing">BRAIN IS DEVOTED TO</text>
<text transform="translate(81.9 178.8) scale(0.8 1)" textLength="99" lengthAdjust="spacing">THE PROCESSING OF</text>
<text transform="translate(76.6 188.7) scale(0.8 1)" textLength="105.6" lengthAdjust="spacing">VISUAL INFORMATION;</text>
<text transform="translate(81.2 198.7) scale(0.8 1)" textLength="99.9" lengthAdjust="spacing">VISUAL PROCESSING</text>
<text transform="translate(100.7 208.7) scale(0.8 1)" textLength="75.5" lengthAdjust="spacing">IS A CRITICALLY</text>
<text transform="translate(66.7 218.7) scale(0.8 1)" textLength="118" lengthAdjust="spacing">IMPORTANT COMPONENT</text>
<text transform="translate(77.7 228.7) scale(0.8 1)" textLength="105.5" lengthAdjust="spacing">OF HUMAN LEARNING.</text>
<text transform="translate(15.9 279.5) scale(0.8 1)" textLength="102.9" lengthAdjust="spacing">THE SENSES DID NOT</text>
<text transform="translate(16.6 289.5) scale(0.8 1)" textLength="102" lengthAdjust="spacing">EVOLVE IN ISOLATION</text>
<text transform="translate(24.4 299.5) scale(0.8 1)" textLength="93.4" lengthAdjust="spacing">FROM EACH OTHER.</text>
<text transform="translate(27.1 309.6) scale(0.8 1)" textLength="88.9" lengthAdjust="spacing">THE HUMAN BRAIN</text>
<text transform="translate(31.6 319.6) scale(0.8 1)" textLength="83.2" lengthAdjust="spacing">SIMULTANEOUSLY</text>
<text transform="translate(52.4 329.6) scale(0.8 1)" textLength="57.2" lengthAdjust="spacing">PROCESSES</text>
<text transform="translate(45.7 339.6) scale(0.8 1)" textLength="65.6" lengthAdjust="spacing">INFORMATION</text>
<text transform="translate(28.9 349.6) scale(0.8 1)" textLength="86.6" lengthAdjust="spacing">SUPPLIED FROM A</text>
<text transform="translate(32.5 359.7) scale(0.8 1)" textLength="82.1" lengthAdjust="spacing">WIDE VARIETY OF</text>
<text transform="translate(30.3 369.7) scale(0.8 1)" textLength="86" lengthAdjust="spacing">SENSORY INPUTS.</text>
<text transform="translate(57.9 435) scale(0.8 1)" textLength="103.2" lengthAdjust="spacing">MODERATE, REGULAR</text>
<text transform="translate(57.9 444.9) scale(0.8 1)" textLength="103.2" lengthAdjust="spacing">EXERCISE POSITIVELY</text>
<text transform="translate(76.7 454.9) scale(0.8 1)" textLength="79.7" lengthAdjust="spacing">AFFECTS HUMAN</text>
<text transform="translate(46.2 464.8) scale(0.8 1)" textLength="117.9" lengthAdjust="spacing">LEARNING AND BUFFERS</text>
<text transform="translate(53.2 474.7) scale(0.8 1)" textLength="109.1" lengthAdjust="spacing">AGAINST DETRIMENTAL</text>
<text transform="translate(48.5 484.6) scale(0.8 1)" textLength="115" lengthAdjust="spacing">EFFECTS OF STRESS ON</text>
<text transform="translate(66.1 494.6) scale(0.8 1)" textLength="94.2" lengthAdjust="spacing">HUMAN COGNITION.</text>
<text transform="translate(186.1 519.5) scale(0.8 1)" textLength="89.9" lengthAdjust="spacing">STRESSED BRAINS</text>
<text transform="translate(183.6 529.5) scale(0.8 1)" textLength="93" lengthAdjust="spacing">DO NOT LEARN THE</text>
<text transform="translate(185.1 539.4) scale(0.8 1)" textLength="92" lengthAdjust="spacing">SAME WAY AS NON-</text>
<text transform="translate(185.1 549.4) scale(0.8 1)" textLength="92.4" lengthAdjust="spacing">STRESSED BRAINS.</text>
<text transform="translate(323.6 534.8) scale(0.8 1)" textLength="105.4" lengthAdjust="spacing">SLEEP STATES ARE AS</text>
<text transform="translate(323.6 544.7) scale(0.8 1)" textLength="90.7" lengthAdjust="spacing">IMPORTANT TO THE</text>
<text transform="translate(323.6 554.6) scale(0.8 1)" textLength="111.5" lengthAdjust="spacing">LEARNING PROCESS AS</text>
<text transform="translate(323.6 564.5) scale(0.8 1)" textLength="74.2" lengthAdjust="spacing">AWAKE STATES.</text>
<text transform="translate(472.7 511.4) scale(0.8 1)" textLength="108.1" lengthAdjust="spacing">MEMORY IS NOT FIXED</text>
<text transform="translate(472.7 521.4) scale(0.8 1)" textLength="93.5" lengthAdjust="spacing">AT THE MOMENT OF</text>
<text transform="translate(472.7 531.4) scale(0.8 1)" textLength="108.1" lengthAdjust="spacing">LEARNING. ELABORATE</text>
<text transform="translate(472.7 541.3) scale(0.8 1)" textLength="85.9" lengthAdjust="spacing">ENCODING, TIMED</text>
<text transform="translate(472.7 551.3) scale(0.8 1)" textLength="127.6" lengthAdjust="spacing">REPETITION, AND INTERNAL</text>
<text transform="translate(472.7 561.3) scale(0.8 1)" textLength="123.5" lengthAdjust="spacing">REHEARSAL ARE CRITICAL</text>
<text transform="translate(472.7 571.3) scale(0.8 1)" textLength="109.5" lengthAdjust="spacing">COMPONENTS FOR THE</text>
<text transform="translate(472.7 581.3) scale(0.8 1)" textLength="127.6" lengthAdjust="spacing">SUCCESSFUL CREATION OF</text>
<text transform="translate(472.7 591.2) scale(0.8 1)" textLength="113" lengthAdjust="spacing">LONG-TERM MEMORIES.</text>
<text transform="translate(575.9 429.9) scale(0.8 1)" textLength="108" lengthAdjust="spacing">MEMORY IS NOT FIXED</text>
<text transform="translate(575.9 440) scale(0.8 1)" textLength="93.8" lengthAdjust="spacing">AT THE MOMENT OF</text>
<text transform="translate(575.9 450.1) scale(0.8 1)" textLength="116" lengthAdjust="spacing">LEARNING, BUT TAKES A</text>
<text transform="translate(575.9 460.3) scale(0.8 1)" textLength="98.8" lengthAdjust="spacing">SURPRISINGLY LONG</text>
<text transform="translate(575.9 470.4) scale(0.8 1)" textLength="103.4" lengthAdjust="spacing">TIME TO DEVELOP ITS</text>
<text transform="translate(575.9 480.5) scale(0.8 1)" textLength="91" lengthAdjust="spacing">PERMANENT FORM.</text>
<text transform="translate(639.1 254.5) scale(0.8 1)" textLength="66.6" lengthAdjust="spacing">PEOPLE MORE</text>
<text transform="translate(639.1 264.5) scale(0.8 1)" textLength="112.4" lengthAdjust="spacing">ELABORATELY PROCESS</text>
<text transform="translate(639.1 274.6) scale(0.8 1)" textLength="87.5" lengthAdjust="spacing">AND PREPARE FOR</text>
<text transform="translate(639.1 284.6) scale(0.8 1)" textLength="102.4" lengthAdjust="spacing">LONG-TERM STORAGE</text>
<text transform="translate(639.1 294.6) scale(0.8 1)" textLength="65" lengthAdjust="spacing">INFORMATION</text>
<text transform="translate(639.1 304.6) scale(0.8 1)" textLength="90" lengthAdjust="spacing">THAT HOLDS THEIR</text>
<text transform="translate(639.1 314.7) scale(0.8 1)" textLength="97" lengthAdjust="spacing">ATTENTION. MAINTE-</text>
<text transform="translate(639.1 324.7) scale(0.8 1)" textLength="95.7" lengthAdjust="spacing">NANCE OF FOCUSED</text>
<text transform="translate(639.1 334.7) scale(0.8 1)" textLength="100" lengthAdjust="spacing">ATTENTIONAL STATES</text>
<text transform="translate(639.1 344.8) scale(0.8 1)" textLength="83.2" lengthAdjust="spacing">MAY BE DIRECTLY</text>
<text transform="translate(639.1 354.8) scale(0.8 1)" textLength="71.8" lengthAdjust="spacing">PROPORTIONAL</text>
<text transform="translate(639.1 364.8) scale(0.8 1)" textLength="92.1" lengthAdjust="spacing">TO THE EMOTIONAL</text>
<text transform="translate(639.1 374.9) scale(0.8 1)" textLength="80.6" lengthAdjust="spacing">CONTENT OF THE</text>
<text transform="translate(639.1 384.9) scale(0.8 1)" textLength="101.4" lengthAdjust="spacing">PRESENTED SUBJECT</text>
<text transform="translate(639.1 394.9) scale(0.8 1)" textLength="48.6" lengthAdjust="spacing">MATERIAL.</text>
<text transform="translate(577.7 168.6) scale(0.8 1)" textLength="110.4" lengthAdjust="spacing">EVERY BRAIN IS WIRED</text>
<text transform="translate(577.7 178.7) scale(0.8 1)" textLength="124.7" lengthAdjust="spacing">DIFFERENTLY FROM EVERY</text>
<text transform="translate(577.7 188.8) scale(0.8 1)" textLength="87.4" lengthAdjust="spacing">OTHER BRAIN AND</text>
<text transform="translate(577.7 198.8) scale(0.8 1)" textLength="116.8" lengthAdjust="spacing">ACQUIRES INFORMATION</text>
<text transform="translate(577.7 208.9) scale(0.8 1)" textLength="94.4" lengthAdjust="spacing">IN WAYS UNIQUE TO</text>
<text transform="translate(577.7 219) scale(0.8 1)" textLength="61.7" lengthAdjust="spacing">THAT WIRING.</text>
<text transform="translate(478.5 69.7) scale(0.8 1)" textLength="109" lengthAdjust="spacing">HUMANS ARE NATURAL</text>
<text transform="translate(478.5 79.7) scale(0.8 1)" textLength="118" lengthAdjust="spacing">EXPLORERS, DISPLAYING</text>
<text transform="translate(478.5 89.7) scale(0.8 1)" textLength="109.4" lengthAdjust="spacing">AT INFANCY AN ABILITY</text>
<text transform="translate(478.5 99.7) scale(0.8 1)" textLength="126.4" lengthAdjust="spacing">TO ACQUIRE INFORMATION</text>
<text transform="translate(478.5 109.7) scale(0.8 1)" textLength="93.4" lengthAdjust="spacing">THROUGH A SERIES</text>
<text transform="translate(478.5 119.7) scale(0.8 1)" textLength="83.6" lengthAdjust="spacing">OF INCREASINGLY</text>
<text transform="translate(478.5 129.7) scale(0.8 1)" textLength="116.8" lengthAdjust="spacing">SELF-CORRECTED IDEAS.</text>
<text transform="translate(313.8 62.3) scale(0.8 1)" textLength="122" lengthAdjust="spacing">AS A BIOLOGICAL TISSUE,</text>
<text transform="translate(313.8 72.3) scale(0.8 1)" textLength="113" lengthAdjust="spacing">THE HUMAN BRAIN WAS</text>
<text transform="translate(313.8 82.3) scale(0.8 1)" textLength="110" lengthAdjust="spacing">SUBJECT TO THE SAME</text>
<text transform="translate(313.8 92.3) scale(0.8 1)" textLength="132.4" lengthAdjust="spacing">EVOLUTIONARY PRESSURES</text>
<text transform="translate(313.8 102.3) scale(0.8 1)" textLength="127.6" lengthAdjust="spacing">AS ALL OTHER BIOLOGICAL</text>
<text transform="translate(313.8 112.3) scale(0.8 1)" textLength="63" lengthAdjust="spacing">PHENOMENA.</text>
</g>
<text transform="translate(14.4 50) scale(1.05 1)" font-size="11" fill="#231815" textLength="18.5" lengthAdjust="spacingAndGlyphs" stroke="#231815" stroke-width="0.55">THE</text>
<text transform="translate(36.2 50) scale(1.05 1)" font-weight="bold" font-size="53.3" fill="#b5211b" stroke="#b5211b" stroke-width="0.3" textLength="62.9" lengthAdjust="spacingAndGlyphs">12</text>
<text transform="translate(14.8 69.5) scale(1.05 1)" font-size="16" fill="#231815" stroke="#231815" stroke-width="0.2" textLength="113" lengthAdjust="spacing">BRAIN RULES</text>
</g>
</svg>
</body></html>
